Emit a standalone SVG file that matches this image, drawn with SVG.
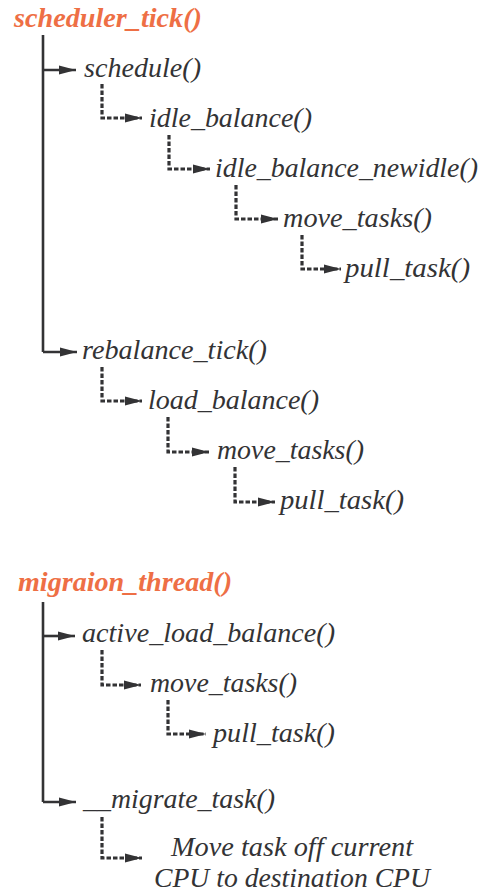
<svg xmlns="http://www.w3.org/2000/svg" width="489" height="894" viewBox="0 0 489 894">
  <style>
    .fn { fill: #333335; }
    .root { fill: #ee6f45; font-weight: bold; }
    .call { fill: none; stroke: #333335; stroke-width: 2.6; marker-end: url(#head); }
    .sub { fill: none; stroke: #333335; stroke-width: 3.2; stroke-dasharray: 4.5 2; marker-end: url(#head); }
    .trunk { fill: none; stroke: #333335; stroke-width: 2.6; }
  </style>
  <defs>
    <marker id="head" markerUnits="userSpaceOnUse" markerWidth="17" markerHeight="10" refX="17" refY="5" orient="auto">
      <path d="M0,0.5 L17,5 L0,9.5 z" fill="#333335"/>
    </marker>
  </defs>
  <rect width="489" height="894" fill="#ffffff"/>

  <!-- connectors -->
  <g id="connectors">
    <!-- scheduler_tick trunk -->
    <path class="trunk" d="M43,35 V352"/>
    <path class="call" d="M43,70 H76"/>
    <path class="call" d="M43,352 H77"/>
    <!-- schedule chain -->
    <path class="sub" d="M102,84 V118 H142"/>
    <path class="sub" d="M169,135 V169 H210"/>
    <path class="sub" d="M236,185 V219 H278"/>
    <path class="sub" d="M302,235 V269 H341"/>
    <!-- rebalance chain -->
    <path class="sub" d="M102,367 V401 H142"/>
    <path class="sub" d="M168,417 V452 H209"/>
    <path class="sub" d="M235,467 V502 H275"/>
    <!-- migration_thread trunk -->
    <path class="trunk" d="M43,602 V802"/>
    <path class="call" d="M43,636 H75"/>
    <path class="call" d="M43,802 H76"/>
    <path class="sub" d="M102,650 V685 H141"/>
    <path class="sub" d="M168,700 V734 H206"/>
    <path class="sub" d="M102,817 V858 H142"/>
  </g>

  <!-- nodes: serif italic call-tree labels -->
  <g id="nodes" font-family="Liberation Serif, serif" font-style="italic" font-size="28">
    <g id="n-scheduler-tick"><text class="root" x="14" y="27" textLength="188" lengthAdjust="spacingAndGlyphs">scheduler_tick()</text></g>
    <g id="n-schedule"><text class="fn" x="84" y="77" textLength="117" lengthAdjust="spacingAndGlyphs">schedule()</text></g>
    <g id="n-idle-balance"><text class="fn" x="149" y="127" textLength="163" lengthAdjust="spacingAndGlyphs">idle_balance()</text></g>
    <g id="n-idle-balance-newidle"><text class="fn" x="215" y="177" textLength="263" lengthAdjust="spacingAndGlyphs">idle_balance_newidle()</text></g>
    <g id="n-move-tasks-1"><text class="fn" x="283" y="227" textLength="149" lengthAdjust="spacingAndGlyphs">move_tasks()</text></g>
    <g id="n-pull-task-1"><text class="fn" x="345" y="277" textLength="125" lengthAdjust="spacingAndGlyphs">pull_task()</text></g>

    <g id="n-rebalance-tick"><text class="fn" x="82" y="359" textLength="185" lengthAdjust="spacingAndGlyphs">rebalance_tick()</text></g>
    <g id="n-load-balance"><text class="fn" x="148" y="409" textLength="171" lengthAdjust="spacingAndGlyphs">load_balance()</text></g>
    <g id="n-move-tasks-2"><text class="fn" x="217" y="459" textLength="147" lengthAdjust="spacingAndGlyphs">move_tasks()</text></g>
    <g id="n-pull-task-2"><text class="fn" x="280" y="509" textLength="124" lengthAdjust="spacingAndGlyphs">pull_task()</text></g>

    <g id="n-migration-thread"><text class="root" x="18" y="591" textLength="214" lengthAdjust="spacingAndGlyphs">migraion_thread()</text></g>
    <g id="n-active-load-balance"><text class="fn" x="82" y="642" textLength="253" lengthAdjust="spacingAndGlyphs">active_load_balance()</text></g>
    <g id="n-move-tasks-3"><text class="fn" x="150" y="692" textLength="147" lengthAdjust="spacingAndGlyphs">move_tasks()</text></g>
    <g id="n-pull-task-3"><text class="fn" x="213" y="742" textLength="122" lengthAdjust="spacingAndGlyphs">pull_task()</text></g>
    <g id="n-migrate-task"><text class="fn" x="83" y="808" textLength="192" lengthAdjust="spacingAndGlyphs">__migrate_task()</text></g>
    <g id="n-move-off-cpu">
      <text class="fn" x="292" y="856" text-anchor="middle" textLength="242" lengthAdjust="spacingAndGlyphs">Move task off current</text>
      <text class="fn" x="292" y="887" text-anchor="middle" textLength="276" lengthAdjust="spacingAndGlyphs">CPU to destination CPU</text>
    </g>
  </g>
</svg>
